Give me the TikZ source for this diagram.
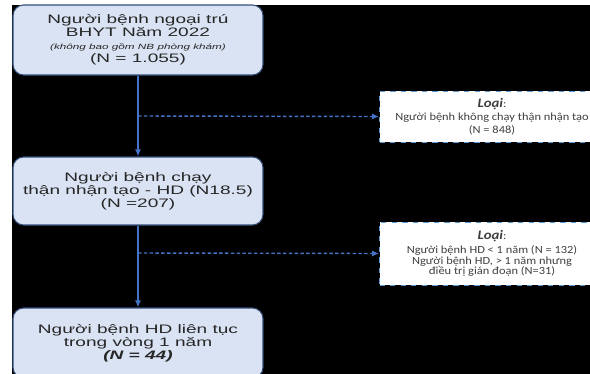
\documentclass[tikz,border=0pt]{standalone}
\usepackage{fontspec}
\newfontfamily\boxfont[FakeStretch=1.55]{Liberation Sans}
\newfontfamily\notefont[FakeStretch=1.14]{Carlito}
\usetikzlibrary{arrows.meta,positioning}

\definecolor{boxfill}{RGB}{218,227,243}
\definecolor{boxline}{RGB}{52,78,120}
\definecolor{linkblue}{RGB}{68,114,196}
\definecolor{notedash}{RGB}{91,155,213}

\begin{document}
\begin{tikzpicture}[x=0.02cm, y=-0.02cm,
   patbox/.style={draw=boxline, line width=0.6pt, fill=boxfill, rounded corners=6pt, minimum width=5cm, inner sep=0pt, align=center, text=black!85, font=\boxfont\fontsize{7}{7.4}\selectfont},
   notebox/.style={draw=notedash, dashed, line width=0.5pt, fill=white, minimum width=4.5cm, inner sep=0pt, align=center, text=black!75, font=\notefont\fontsize{6.2}{7.4}\selectfont},
   flow/.style={draw=linkblue, line width=0.8pt, -{Latex[length=4pt,width=3.5pt]}},
   skip/.style={flow, dash pattern=on 2pt off 1.3pt}]
   \useasboundingbox (0,0) rectangle (590,373);
   \fill[black] (12,5) rectangle (600,380);
   % main path
   \node[patbox, minimum height=1.4cm] (opd) at (138,40) {Người bệnh ngoại trú\\BHYT Năm 2022\\{\fontsize{4.3}{6}\selectfont\itshape(không bao gồm NB phòng khám)}\\(N = 1.055)};
   \node[patbox, minimum height=1.36cm] (hd) at (138,191) {Người bệnh chạy\\thận nhận tạo - HD (N18.5)\\(N =207)};
   \node[patbox, minimum height=1.4cm] (cont) at (138,343) {Người bệnh HD liên tục\\trong vòng 1 năm\\{\bfseries\itshape(N = 44)}};
   % excluded
   \node[notebox, minimum height=1.02cm] (excl1) at (492,116.5) {{\fontsize{7.4}{7.4}\selectfont\bfseries\itshape Loại}:\\Người bệnh không chạy thận nhận tạo\\(N = 848)};
   \node[notebox, minimum height=1.26cm, font=\notefont\fontsize{6.2}{6}\selectfont] (excl2) at (492,253.5) {{\fontsize{7.4}{7.4}\selectfont\bfseries\itshape Loại}:\\[2pt]Người bệnh HD < 1 năm (N = 132)\\Người bệnh HD, > 1 năm nhưng\\điều trị gián đoạn (N=31)};
   \coordinate (j1) at (138,116);
   \coordinate (j2) at (138,253);
   \foreach \src/\dst in {opd/hd, hd/cont} % trunk
   \draw[flow] (\src.south) -- (\dst.north);
   \foreach \src/\dst in {j1/excl1, j2/excl2}
   \draw[skip] (\src) -- (\dst.west);
\end{tikzpicture}
\end{document}
